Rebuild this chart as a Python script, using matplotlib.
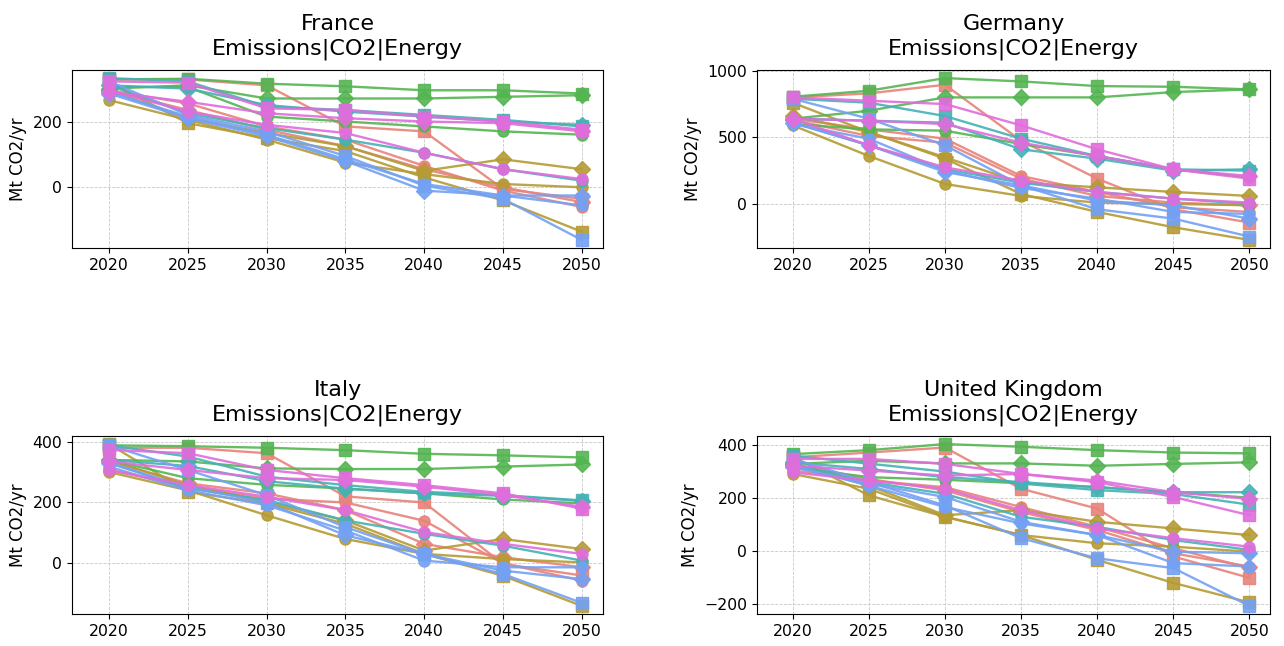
import numpy as np
import matplotlib
matplotlib.use('Agg')
import matplotlib.pyplot as plt
from matplotlib.ticker import MultipleLocator

YEARS = [2020, 2025, 2030, 2035, 2040, 2045, 2050]
REGIONS = ['France', 'Germany', 'Italy', 'United Kingdom']
VARIABLE = 'Emissions|CO2|Energy'
UNIT = 'Mt CO2/yr'
Y_STEPS = [200, 500, 200, 200]

# model colours, scenario markers
MODEL_COLORS = ['#E8837A', '#B59B35', '#55B552', '#45B2B5', '#73A1F4', '#E06DDC']
SCENARIO_MARKERS = ['s', 'o', 'D']

# rows: model (salmon, olive, green, teal, blue, magenta) x scenario (square, circle, diamond)
france = [
    [328, 328, 310, 185, 170, -5, -35],
    [295, 255, 185, 145, 65, -10, -60],
    [295, 235, 175, 125, 55, 0, -45],
    [320, 195, 150, 110, 30, -40, -135],
    [265, 205, 145, 75, 40, 10, 0],
    [295, 210, 165, 125, 50, 85, 55],
    [328, 330, 315, 307, 295, 295, 285],
    [305, 305, 215, 200, 185, 170, 160],
    [300, 310, 270, 270, 270, 275, 280],
    [332, 322, 245, 235, 220, 205, 185],
    [310, 225, 180, 145, 105, 55, 20],
    [310, 300, 250, 230, 215, 200, 190],
    [322, 220, 170, 95, 5, -35, -160],
    [290, 215, 160, 85, 10, -25, -55],
    [285, 210, 155, 80, -10, -25, -25],
    [322, 318, 240, 235, 215, 200, 175],
    [295, 230, 190, 165, 105, 55, 25],
    [290, 260, 225, 210, 200, 195, 170],
]

germany = [
    [800, 830, 895, 475, 190, -40, -140],
    [640, 560, 490, 210, 90, -25, -60],
    [630, 510, 460, 190, 60, 10, -10],
    [760, 540, 340, 75, -60, -175, -270],
    [590, 360, 150, 60, 10, 0, -10],
    [660, 540, 350, 160, 125, 90, 60],
    [805, 850, 945, 920, 885, 880, 860],
    [600, 560, 550, 450, 360, 260, 200],
    [640, 700, 800, 800, 800, 840, 860],
    [790, 760, 660, 490, 360, 260, 250],
    [610, 440, 260, 160, 90, 40, 0],
    [640, 625, 610, 410, 340, 250, 260],
    [790, 640, 440, 140, -40, -110, -245],
    [600, 490, 250, 120, 40, -60, -75],
    [610, 440, 240, 140, 25, -10, -110],
    [800, 775, 750, 590, 410, 260, 190],
    [640, 440, 275, 175, 90, 40, 10],
    [640, 625, 600, 460, 360, 260, 210],
]

italy = [
    [380, 380, 362, 220, 200, -2, -40],
    [307, 252, 213, 200, 140, 0, -57],
    [335, 263, 230, 175, 64, 20, -13],
    [392, 235, 197, 130, 31, -41, -140],
    [300, 240, 158, 80, 31, 14, 3],
    [340, 257, 202, 141, 42, 80, 47],
    [388, 385, 380, 372, 360, 355, 348],
    [340, 280, 258, 246, 230, 210, 197],
    [340, 335, 312, 310, 310, 318, 325],
    [388, 351, 285, 257, 235, 224, 207],
    [330, 246, 208, 141, 97, 58, 9],
    [340, 320, 270, 245, 230, 222, 205],
    [388, 307, 224, 119, 31, -35, -130],
    [318, 240, 191, 108, 9, -13, -13],
    [330, 250, 200, 92, 31, -24, -52],
    [373, 362, 307, 280, 257, 230, 180],
    [307, 257, 219, 175, 103, 64, 31],
    [335, 307, 280, 274, 252, 224, 186],
]

uk = [
    [354, 372, 391, 235, 160, -21, -102],
    [304, 266, 241, 166, 91, 10, -65],
    [329, 272, 229, 147, 79, -9, -59],
    [356, 210, 129, 60, -34, -121, -195],
    [291, 235, 129, 60, 29, 16, -3],
    [329, 247, 135, 154, 110, 85, 60],
    [366, 381, 404, 394, 381, 372, 369],
    [316, 279, 269, 256, 241, 222, 201],
    [329, 341, 331, 331, 322, 329, 335],
    [360, 330, 300, 255, 230, 215, 175],
    [329, 260, 216, 129, 91, 41, 4],
    [335, 310, 279, 260, 241, 222, 222],
    [348, 260, 172, 48, -28, -65, -208],
    [322, 247, 166, 104, 60, -46, -59],
    [316, 254, 204, 110, 60, -3, -9],
    [348, 348, 329, 291, 260, 204, 135],
    [297, 266, 235, 154, 85, 48, 16],
    [322, 304, 285, 291, 266, 222, 197],
]

DATA = [france, germany, italy, uk]

W, H = 1284, 646
# axes boxes in pixels: left, top, right, bottom
BOXES = [(72, 70, 603, 248), (757, 70, 1270, 248),
         (72, 436, 603, 614), (757, 436, 1270, 614)]

fig = plt.figure(figsize=(W / 100, H / 100), dpi=100)

for region, values, step, (l, t, r, b) in zip(REGIONS, DATA, Y_STEPS, BOXES):
    ax = fig.add_axes([l / W, 1 - b / H, (r - l) / W, (b - t) / H])
    for i, row in enumerate(values):
        color = MODEL_COLORS[i // 3]
        marker = SCENARIO_MARKERS[i % 3]
        ax.plot(YEARS, row, color=color, marker=marker, markersize=8,
                linewidth=1.7, alpha=0.9)
    ax.set_title(region + '\n' + VARIABLE, fontsize=16, pad=11, linespacing=1.3)
    ax.set_ylabel(UNIT, fontsize=12)
    ax.set_xticks(YEARS)
    ax.set_xlim(2017.65, 2051.35)
    ax.yaxis.set_major_locator(MultipleLocator(step))
    ax.tick_params(labelsize=11.3)
    ax.grid(True, linestyle='--', linewidth=0.6, color='#c8c8c8')
    ax.set_axisbelow(True)

fig.savefig('out.png', dpi=100)
